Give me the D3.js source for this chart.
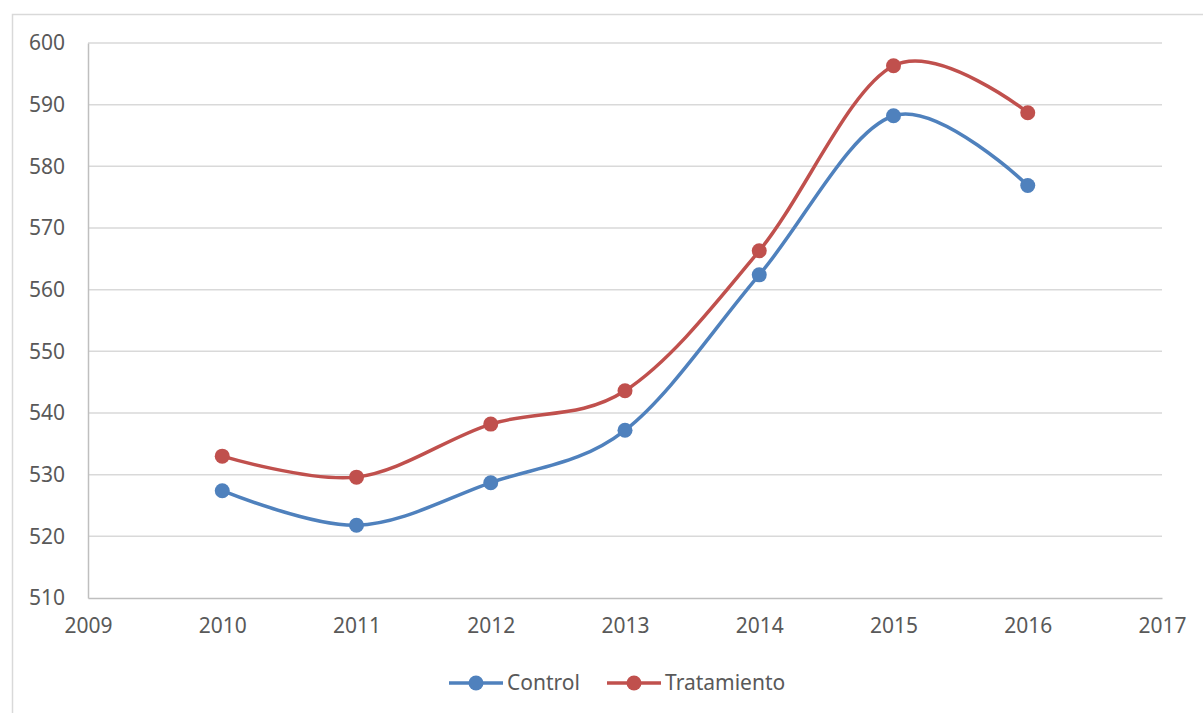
<!DOCTYPE html>
<html>
<head>
<meta charset="utf-8">
<script src="https://cdn.jsdelivr.net/npm/d3@7"></script>
<style>
  body { margin: 0; background: #fff; }
  text { font-family: "Noto Sans", "Open Sans", sans-serif; fill: #595959; }
</style>
</head>
<body>
<script>
// size of window
var width = 1203;
var height = 713;

// data
var years = [2010, 2011, 2012, 2013, 2014, 2015, 2016];
var control = [527.4, 521.8, 528.7, 537.2, 562.4, 588.2, 576.9];
var tratamiento = [533.0, 529.6, 538.2, 543.6, 566.3, 596.3, 588.7];
var seriesNames = ["Control", "Tratamiento"];
var colors = ["#4f81bd", "#c0504d"];
var xTicks = [2009, 2010, 2011, 2012, 2013, 2014, 2015, 2016, 2017];
var yTicks = [510, 520, 530, 540, 550, 560, 570, 580, 590, 600];

var margin = {left: 88, right: 41, top: 43, bottom: 115};

var svg = d3.select("body").append("svg")
  .attr("width", width).attr("height", height);

// outer frame
svg.append("rect")
  .attr("x", 12.5).attr("y", 14.5)
  .attr("width", width).attr("height", height)
  .attr("fill", "none").attr("stroke", "#d9d9d9").attr("stroke-width", 1.5);

var x = d3.scaleLinear().domain([2009, 2017]).range([margin.left, width - margin.right]);
var y = d3.scaleLinear().domain([510, 600]).range([height - margin.bottom, margin.top]);

// gridlines
svg.append("g").selectAll("line")
  .data(yTicks.slice(1))
  .enter().append("line")
  .attr("x1", x(2009)).attr("x2", x(2017))
  .attr("y1", function(d){ return y(d); }).attr("y2", function(d){ return y(d); })
  .attr("stroke", "#d9d9d9").attr("stroke-width", 1.5);

// y axis
var yAxis = d3.axisLeft(y).tickValues(yTicks).tickSize(0).tickPadding(23);
var gy = svg.append("g").attr("transform", "translate(" + x(2009) + ",0)").call(yAxis);
gy.select(".domain").attr("stroke", "#bfbfbf").attr("stroke-width", 1.5);
gy.selectAll("text").style("font-size", "21px").attr("fill", "#595959");

// x axis
var xAxis = d3.axisBottom(x).tickValues(xTicks).tickFormat(d3.format("d")).tickSize(0).tickPadding(20);
var gx = svg.append("g").attr("transform", "translate(0," + y(510) + ")").call(xAxis);
gx.select(".domain").attr("stroke", "#bfbfbf").attr("stroke-width", 1.5);
gx.selectAll("text").style("font-size", "21px").attr("fill", "#595959");

var line = d3.line()
  .x(function(d, i){ return x(years[i]); })
  .y(function(d){ return y(d); })
  .curve(d3.curveCardinal.tension(0));

[control, tratamiento].forEach(function(vals, s) {
  svg.append("path")
    .attr("d", line(vals))
    .attr("fill", "none")
    .attr("stroke", colors[s])
    .attr("stroke-width", 3.5);
  svg.append("g").selectAll("circle")
    .data(vals)
    .enter().append("circle")
    .attr("cx", function(d, i){ return x(years[i]); })
    .attr("cy", function(d){ return y(d); })
    .attr("r", 7.5)
    .attr("fill", colors[s]);
});

// legend
var legendX = [449, 607];
seriesNames.forEach(function(name, s) {
  var g = svg.append("g").attr("transform", "translate(" + legendX[s] + ",683)");
  g.append("line").attr("x1", 0).attr("x2", 54)
    .attr("stroke", colors[s]).attr("stroke-width", 3.5);
  g.append("circle").attr("cx", 27).attr("r", 7.5).attr("fill", colors[s]);
  g.append("text").attr("x", 58).attr("dy", "0.35em")
    .style("font-size", "21px").text(name);
});
</script>
</body>
</html>
